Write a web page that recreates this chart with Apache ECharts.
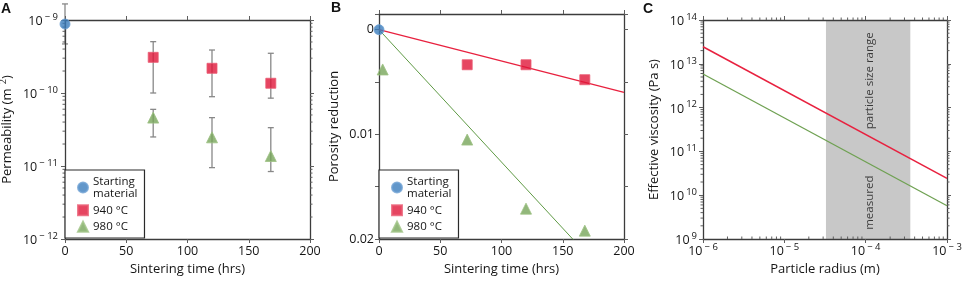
<!DOCTYPE html>
<html>
<head>
<meta charset="utf-8">
<style>html,body{margin:0;padding:0;background:#fff}#chart{width:964px;height:282px}</style>
<script src="https://cdn.jsdelivr.net/npm/echarts@6/dist/echarts.min.js"></script>
</head>
<body>
<div id="chart"></div>
<script>
// ---- data ----
// A: permeability vs sintering time
const legendNames = ['Starting\nmaterial', '940 °C', '980 °C'];
const timesA = [72, 120, 168];
const permStart = [8.8e-10];
const permStartLo = [4.7e-10];
const permStartHi = [1.66e-9];
const perm940 = [3.08e-10, 2.18e-10, 1.36e-10];
const perm940Lo = [1.0e-10, 8.9e-11, 8.5e-11];
const perm940Hi = [5.05e-10, 3.88e-10, 3.5e-10];
const perm980 = [4.6e-11, 2.47e-11, 1.37e-11];
const perm980Lo = [2.5e-11, 9.5e-12, 8.4e-12];
const perm980Hi = [5.97e-11, 4.6e-11, 3.35e-11];
// B: porosity reduction
const times940B = [72, 120, 168];
const poro940 = [0.00335, 0.00335, 0.00478];
const times980B = [3, 72, 120, 168];
const poro980 = [0.0038, 0.0105, 0.0171, 0.0192];
const fitTimes = [0, 200];
const fit940 = [0, 0.0060];
const fit980 = [0, 0.0253];
const poroTicks = [0, 0.01, 0.02];
// C: effective viscosity vs particle radius
const radius = [1e-6, 1e-3];
const visc940 = [2.45e13, 2.43e10];
const visc980 = [5.85e12, 5.75e9];
const bandRadius = [3.25e-5, 3.54e-4];
const bandText = ['particle size range', 'measured'];
const bandTextY = [4.1e12, 6.75e9];
const bandTextX = 1.11e-4;

// ---- styles ----
const FONT = 'Open Sans';
const TXT = '#151515';
const lineCol = '#3c3c3c';
const tickCol = '#5e5e5e';
const red = '#e0173a', green = '#77a55a', blue = '#3b7dbd';

const sup = {
  b: { fontSize: 12.5, fontFamily: FONT, color: TXT, verticalAlign: 'bottom', lineHeight: 16 },
  s: { fontSize: 9.5, fontFamily: FONT, color: TXT, verticalAlign: 'top', lineHeight: 16, padding: [0, 0, 0, 2] }
};
function pow10(v) {
  const e = Math.round(Math.log10(v));
  return '{b|10}{s|' + (e < 0 ? '\u2212 ' + (-e) : e) + '}';
}
function decadeMinors(e0, e1) {
  const out = [];
  for (let e = e0; e < e1; e++) for (let k = 2; k <= 9; k++) out.push(k * Math.pow(10, e));
  return out;
}

function axis(grid, pos, opts, labels) {
  return Object.assign({
    gridIndex: grid, position: pos, z: 1,
    axisLine: { show: true, onZero: false, lineStyle: { color: lineCol, width: 1.3 } },
    axisTick: { show: true, length: 4, lineStyle: { color: tickCol, width: 1 } },
    splitLine: { show: false },
    axisLabel: labels ? Object.assign({ color: TXT, fontSize: 12.5, fontFamily: FONT }, labels) : { show: false },
    nameTextStyle: { color: TXT, fontSize: 13, fontFamily: FONT }
  }, opts);
}

const timeAx = { type: 'value', min: 0, max: 200, interval: 50 };
const permAx = { type: 'log', min: 1e-12, max: 1e-9, logBase: 10 };
const poroAx = { type: 'value', min: -0.0015, max: 0.02, inverse: true };
const radAx = { type: 'log', min: 1e-6, max: 1e-3, logBase: 10 };
const viscAx = { type: 'log', min: 1e9, max: 1e14, logBase: 10 };

const xName = (n) => ({ name: n, nameLocation: 'middle', nameGap: 22 });
const yName = (n, gap) => ({ name: n, nameLocation: 'middle', nameGap: gap });

function errBars(params, api) {
  const x = api.value(0);
  const lo = api.coord([x, api.value(1)]);
  const hi = api.coord([x, api.value(2)]);
  const w = 3, st = { stroke: '#888', lineWidth: 1.3 };
  return { type: 'group', children: [
    { type: 'line', shape: { x1: lo[0], y1: lo[1], x2: hi[0], y2: hi[1] }, style: st },
    { type: 'line', shape: { x1: lo[0] - w, y1: lo[1], x2: lo[0] + w, y2: lo[1] }, style: st },
    { type: 'line', shape: { x1: hi[0] - w, y1: hi[1], x2: hi[0] + w, y2: hi[1] }, style: st }
  ] };
}
// minor log ticks drawn through the axis scale
function minorY(params, api) {
  const cs = params.coordSys, y = api.coord([api.value(0), api.value(1)])[1], L = 2.5;
  const st = { stroke: tickCol, lineWidth: 1 };
  return { type: 'group', children: [
    { type: 'line', shape: { x1: cs.x - L, y1: y, x2: cs.x, y2: y }, style: st },
    { type: 'line', shape: { x1: cs.x + cs.width, y1: y, x2: cs.x + cs.width + L, y2: y }, style: st }
  ] };
}
function minorX(params, api) {
  const cs = params.coordSys, x = api.coord([api.value(0), api.value(1)])[0], L = 2.5;
  const st = { stroke: tickCol, lineWidth: 1 };
  const b = cs.y + cs.height;
  return { type: 'group', children: [
    { type: 'line', shape: { x1: x, y1: b, x2: x, y2: b - L }, style: st },
    { type: 'line', shape: { x1: x, y1: cs.y, x2: x, y2: cs.y - L }, style: st }
  ] };
}

const marker = {
  [legendNames[0]]: { symbol: 'circle', symbolSize: 10, itemStyle: { color: blue, borderColor: '#6b9fd2', borderWidth: 1 } },
  [legendNames[1]]: { symbol: 'rect', symbolSize: 10, itemStyle: { color: red, borderColor: '#ea5a72', borderWidth: 1 } },
  [legendNames[2]]: { symbol: 'triangle', symbolSize: 11, itemStyle: { color: green, borderColor: '#9dc283', borderWidth: 1 } }
};
function scatter(name, xi, yi, data) {
  return Object.assign({ type: 'scatter', name, xAxisIndex: xi, yAxisIndex: yi, data, clip: false, z: 5 }, marker[name]);
}

const legendBase = {
  orient: 'vertical', top: 170, data: legendNames, z: 4,
  backgroundColor: '#fff', borderColor: '#2a2a2a', borderWidth: 1.2,
  padding: [5, 7, 5, 12], itemGap: 4, itemWidth: 10, itemHeight: 10,
  textStyle: { color: TXT, fontSize: 11.5, fontFamily: FONT, lineHeight: 12.5 },
  selectedMode: false
};

const option = {
  animation: false,
  grid: [
    { left: 65, top: 20, width: 245, height: 219, containLabel: false, outerBoundsMode: 'none' },
    { left: 379, top: 14, width: 245, height: 225, containLabel: false, outerBoundsMode: 'none' },
    { left: 703, top: 20, width: 244, height: 219, containLabel: false, outerBoundsMode: 'none' }
  ],
  xAxis: [
    axis(0, 'bottom', Object.assign({}, timeAx, xName('Sintering time (hrs)')), { margin: 6 }),
    axis(0, 'top', Object.assign({}, timeAx)),
    axis(1, 'bottom', Object.assign({}, timeAx, xName('Sintering time (hrs)')), { margin: 6 }),
    axis(1, 'top', Object.assign({}, timeAx)),
    axis(2, 'bottom', Object.assign({}, radAx, xName('Particle radius (m)')), { margin: 3, formatter: pow10, rich: sup }),
    axis(2, 'top', Object.assign({}, radAx))
  ],
  yAxis: [
    axis(0, 'left', Object.assign({}, permAx, yName('{n|Permeability (m }{s|2}{n|)}', 49),
      { nameTextStyle: { rich: { n: { fontSize: 13, fontFamily: FONT, color: TXT }, s: { fontSize: 9, fontFamily: FONT, color: TXT, padding: [0, 0, 8, 1] } } } }),
      { margin: 7, formatter: pow10, rich: sup }),
    axis(0, 'right', Object.assign({}, permAx)),
    axis(1, 'left', Object.assign({}, poroAx, yName('Porosity reduction', 38)),
      { margin: 5, customValues: poroTicks, formatter: (v) => String(+v.toFixed(2)) }),
    axis(1, 'right', Object.assign({}, poroAx)),
    axis(2, 'left', Object.assign({}, viscAx, yName('Effective viscosity (Pa s)', 42)),
      { margin: 6, formatter: pow10, rich: sup }),
    axis(2, 'right', Object.assign({}, viscAx))
  ],
  legend: [
    Object.assign({ left: 65 }, legendBase),
    Object.assign({ left: 379 }, legendBase)
  ],
  graphic: [
    { type: 'text', left: 1, top: 2, style: { text: 'A', font: 'bold 14px "Liberation Sans"', fill: '#111' } },
    { type: 'text', left: 331, top: 1, style: { text: 'B', font: 'bold 14px "Liberation Sans"', fill: '#111' } },
    { type: 'text', left: 643, top: 2, style: { text: 'C', font: 'bold 14px "Liberation Sans"', fill: '#111' } }
  ],
  series: [
    // A
    { type: 'custom', xAxisIndex: 0, yAxisIndex: 0, clip: false, z: 0, renderItem: errBars, encode: { x: 0, y: [1, 2] },
      data: [[0, permStartLo[0], permStartHi[0]]]
        .concat(timesA.map((t, i) => [t, perm940Lo[i], perm940Hi[i]]))
        .concat(timesA.map((t, i) => [t, perm980Lo[i], perm980Hi[i]])) },
    scatter(legendNames[0], 0, 0, [[0, permStart[0]]]),
    scatter(legendNames[1], 0, 0, timesA.map((t, i) => [t, perm940[i]])),
    scatter(legendNames[2], 0, 0, timesA.map((t, i) => [t, perm980[i]])),
    { type: 'custom', xAxisIndex: 0, yAxisIndex: 0, clip: false, renderItem: minorY,
      data: decadeMinors(-12, -9).map((v) => [0, v]) },
    // B
    { type: 'line', xAxisIndex: 2, yAxisIndex: 2, showSymbol: false, z: 3, lineStyle: { color: '#e8213f', width: 1.3 },
      data: fitTimes.map((t, i) => [t, fit940[i]]) },
    { type: 'line', xAxisIndex: 2, yAxisIndex: 2, showSymbol: false, z: 3, lineStyle: { color: '#5f9a45', width: 1 },
      data: fitTimes.map((t, i) => [t, fit980[i]]) },
    scatter(legendNames[0], 2, 2, [[0, 0]]),
    scatter(legendNames[1], 2, 2, times940B.map((t, i) => [t, poro940[i]])),
    scatter(legendNames[2], 2, 2, times980B.map((t, i) => [t, poro980[i]])),
    // C
    { type: 'line', xAxisIndex: 4, yAxisIndex: 4, showSymbol: false, z: 0, data: [[bandRadius[0], 1e9]], lineStyle: { width: 0 },
      markArea: { silent: true, itemStyle: { color: '#c8c8c8' }, data: [[{ xAxis: bandRadius[0] }, { xAxis: bandRadius[1] }]] } },
    { type: 'line', xAxisIndex: 4, yAxisIndex: 4, showSymbol: false, z: 3, lineStyle: { color: '#e8213f', width: 1.5 },
      data: radius.map((r, i) => [r, visc940[i]]) },
    { type: 'line', xAxisIndex: 4, yAxisIndex: 4, showSymbol: false, z: 3, lineStyle: { color: '#6fa152', width: 1.3 },
      data: radius.map((r, i) => [r, visc980[i]]) },
    { type: 'scatter', xAxisIndex: 4, yAxisIndex: 4, symbolSize: 1, itemStyle: { color: 'transparent' }, z: 4,
      label: { show: true, position: 'inside', rotate: 90, formatter: (p) => p.data[2], color: TXT, fontSize: 11.5, fontFamily: FONT },
      data: bandText.map((t, i) => [bandTextX, bandTextY[i], t]) },
    { type: 'custom', xAxisIndex: 4, yAxisIndex: 4, clip: false, renderItem: minorY,
      data: decadeMinors(9, 14).map((v) => [1e-6, v]) },
    { type: 'custom', xAxisIndex: 4, yAxisIndex: 4, clip: false, renderItem: minorX,
      data: decadeMinors(-6, -3).map((v) => [v, 1e9]) }
  ]
};

const chart = echarts.init(document.getElementById('chart'));
chart.setOption(option);
</script>
</body>
</html>
